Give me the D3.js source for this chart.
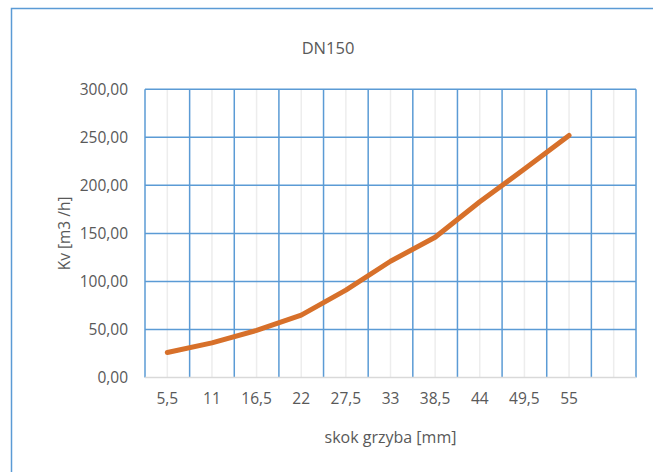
<!DOCTYPE html>
<html><head><meta charset="utf-8">
<script src="https://cdn.jsdelivr.net/npm/d3@7"></script>
<style>body{margin:0;background:#fff}svg{display:block}text{font-family:"Open Sans",Lato,sans-serif;fill:#595959}</style>
</head><body><svg id="c" width="653" height="472"></svg>
<script>
const categories = ["5,5","11","16,5","22","27,5","33","38,5","44","49,5","55",""];
const kv = [26, 36, 49, 65, 91, 121, 146, 183, 217, 252];
const yTicks = [0, 50, 100, 150, 200, 250, 300];
const title = "DN150";
const xTitle = "skok grzyba [mm]";
const yTitle = "Kv [m3 /h]";

const svg = d3.select("#c");
svg.append("rect").attr("x",11.5).attr("y",8.5).attr("width",700).attr("height",500)
  .attr("fill","none").attr("stroke","#5B9BD5").attr("stroke-width",1.5);

const L=145, R=636, T=89.3, B=377.5;
const x = d3.scaleBand().domain(categories.map((c,i)=>i)).range([L,R]).paddingInner(0).paddingOuter(0);
const y = d3.scaleLinear().domain([0,300]).range([B,T]);
const fmt = v => d3.format(".2f")(v).replace(".",",");

svg.append("g").selectAll("line").data(categories.map((c,i)=>i)).join("line")
  .attr("x1",d=>x(d)+x.bandwidth()/2).attr("x2",d=>x(d)+x.bandwidth()/2)
  .attr("y1",T).attr("y2",B).attr("stroke","#EDEDED").attr("stroke-width",1.5);
const edges = categories.map((c,i)=>x(i)).concat([R]);
svg.append("g").selectAll("line").data(edges).join("line")
  .attr("x1",d=>d).attr("x2",d=>d).attr("y1",T).attr("y2",B)
  .attr("stroke","#5B9BD5").attr("stroke-width",1.5);
svg.append("g").selectAll("line").data(yTicks.filter(v=>v>0)).join("line")
  .attr("x1",L).attr("x2",R).attr("y1",d=>y(d)).attr("y2",d=>y(d))
  .attr("stroke","#5B9BD5").attr("stroke-width",1.5);
svg.append("line").attr("x1",L).attr("x2",R).attr("y1",B).attr("y2",B)
  .attr("stroke","#D9D9D9").attr("stroke-width",1.5);

const yAxis = d3.axisLeft(y).tickValues(yTicks).tickFormat(fmt).tickSize(0).tickPadding(17);
const gy = svg.append("g").attr("transform",`translate(${L},0)`).call(yAxis);
gy.select(".domain").remove();
gy.selectAll("text").style("font-size","15.5px").attr("fill","#595959");

const xAxis = d3.axisBottom(x).tickFormat(i=>categories[i]).tickSize(0).tickPadding(15);
const gx = svg.append("g").attr("transform",`translate(0,${B})`).call(xAxis);
gx.select(".domain").remove();
gx.selectAll("text").style("font-size","15.5px").attr("fill","#595959");
svg.selectAll("g").attr("font-family",null).attr("font-size",null);

const line = d3.line().x((d,i)=>x(i)+x.bandwidth()/2).y(d=>y(d));
svg.append("path").datum(kv).attr("d",line).attr("fill","none")
  .attr("stroke","#D7702A").attr("stroke-width",5).attr("stroke-linecap","round").attr("stroke-linejoin","round");

svg.append("text").attr("x",328).attr("y",54).attr("text-anchor","middle")
  .style("font-size","16.5px").text(title);
svg.append("text").attr("x",(L+R)/2).attr("y",443).attr("text-anchor","middle")
  .style("font-size","16px").text(xTitle);
svg.append("text").attr("transform",`translate(70,${(T+B)/2}) rotate(-90)`).attr("text-anchor","middle")
  .style("font-size","15.5px").text(yTitle);
</script></body></html>
